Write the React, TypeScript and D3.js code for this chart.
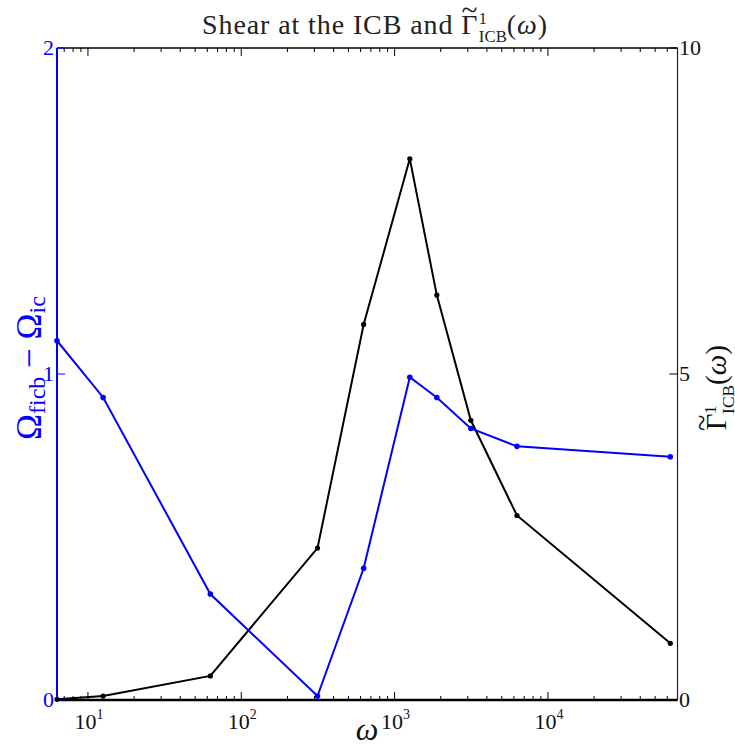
import React from "react";
import * as d3 from "d3";

const omegaFactors = [1, 2, 10, 50, 100, 200, 300, 500, 1000, 10000];
const omega = omegaFactors.map((f) => 2 * Math.PI * f);
const shear = [1.102, 0.928, 0.325, 0.012, 0.404, 0.99, 0.928, 0.833, 0.778, 0.746];
const gamma = [0.01, 0.06, 0.37, 2.33, 5.76, 8.3, 6.21, 4.29, 2.83, 0.87];
const leftTicks = [0, 1, 2];
const rightTicks = [0, 5, 10];
const xMajor = [1, 2, 3, 4];

const W = 735;
const H = 746;
const L = 57;
const R = 677.5;
const T = 48;
const B = 700;
const serif = "'Liberation Serif', 'DejaVu Serif', serif";

function gammaSpans(fs: number) {
  return [
    <tspan key="g">Γ</tspan>,
    <tspan key="t" dx={-0.6 * fs} dy={-0.5 * fs} fontSize={fs * 1.05}>~</tspan>,
    <tspan key="1" dx={0.02 * fs} dy={0.15 * fs} fontSize={0.58 * fs} letterSpacing={0}>1</tspan>,
    <tspan key="s" dx={-0.29 * fs} dy={0.62 * fs} fontSize={0.6 * fs} letterSpacing={0}>ICB</tspan>,
    <tspan key="p" dy={-0.27 * fs}>(</tspan>,
    <tspan key="w" fontStyle="italic">ω</tspan>,
    <tspan key="q">)</tspan>,
  ];
}

export default function App() {
  const x = d3.scaleLog().domain([2 * Math.PI, 70000]).range([L, R]);
  const yl = d3.scaleLinear().domain([0, 2]).range([B, T]);
  const yr = d3.scaleLinear().domain([0, 10]).range([B, T]);
  const minor = x.ticks().filter((v) => v >= x.domain()[0] && v <= x.domain()[1]);
  const isMajor = (v: number) => Math.abs(Math.log10(v) - Math.round(Math.log10(v))) < 1e-9;

  const lineL = d3.line<number>().x((_, i) => x(omega[i])).y((d) => yl(d));
  const lineR = d3.line<number>().x((_, i) => x(omega[i])).y((d) => yr(d));

  return (
    <svg width={W} height={H} style={{ display: "block", position: "absolute", left: 0, top: 0 }}>
      <rect width={W} height={H} fill="#fff" />
      {/* title */}
      <text x={375} y={34} textAnchor="middle" fontFamily={serif} fontSize={28} fill="#222" letterSpacing={0.9}>
        <tspan>Shear at the ICB and </tspan>
        {gammaSpans(28)}
      </text>

      {/* x ticks bottom and top */}
      {minor.map((v, i) => {
        const len = isMajor(v) ? 8 : 4;
        const xx = x(v);
        return (
          <g key={i}>
            <line x1={xx} x2={xx} y1={B} y2={B - len} stroke="#000" strokeWidth={1} />
            <line x1={xx} x2={xx} y1={T} y2={T + len} stroke="#000" strokeWidth={1} />
          </g>
        );
      })}
      {xMajor.map((e) => (
        <text key={e} x={x(Math.pow(10, e)) + 1} y={729} textAnchor="middle" fontFamily={serif} fontSize={22} fill="#111">
          10<tspan dy={-10} fontSize={14}>{e}</tspan>
        </text>
      ))}
      <text x={367} y={740} textAnchor="middle" fontFamily={serif} fontStyle="italic" fontSize={32} fill="#111">ω</text>

      {/* frame */}
      <line x1={L} x2={R} y1={T} y2={T} stroke="#000" strokeWidth={1.5} />
      <line x1={L} x2={R} y1={B} y2={B} stroke="#000" strokeWidth={2.5} />
      <line x1={R} x2={R} y1={T} y2={B} stroke="#1a1a70" strokeWidth={1.2} />
      <line x1={L} x2={L} y1={T} y2={B} stroke="#0000ff" strokeWidth={2} />

      {/* left ticks */}
      {leftTicks.map((t) => (
        <g key={t}>
          <line x1={L} x2={L + 8} y1={yl(t)} y2={yl(t)} stroke="#0000ff" strokeWidth={1} />
          <text x={54} y={yl(t) + 7} textAnchor="end" fontFamily={serif} fontSize={22} fill="#0000ff">{t}</text>
        </g>
      ))}
      {/* right ticks */}
      {rightTicks.map((t) => (
        <g key={t}>
          <line x1={R - 8} x2={R} y1={yr(t)} y2={yr(t)} stroke="#000" strokeWidth={1} />
          <text x={679} y={yr(t) + 7} textAnchor="start" fontFamily={serif} fontSize={22} fill="#111">{t}</text>
        </g>
      ))}

      {/* left y label */}
      <text transform="translate(41,368) rotate(-90)" textAnchor="middle" fontFamily={serif} fontSize={35} fill="#0000ff">
        Ω<tspan dy={4} fontSize={24}>ficb</tspan>
        <tspan dy={-4}> − Ω</tspan>
        <tspan dy={4} fontSize={24}>ic</tspan>
      </text>
      {/* right y label */}
      <text transform="translate(726,388) rotate(-90)" textAnchor="middle" fontFamily={serif} fontSize={29} fill="#111">
        {gammaSpans(29)}
      </text>

      {/* data */}
      <path d={lineR(gamma) || ""} fill="none" stroke="#000" strokeWidth={2} />
      {gamma.map((d, i) => (
        <circle key={"g" + i} cx={x(omega[i])} cy={yr(d)} r={2.6} fill="#000" />
      ))}
      <path d={lineL(shear) || ""} fill="none" stroke="#0000ff" strokeWidth={2} />
      {shear.map((d, i) => (
        <circle key={"s" + i} cx={x(omega[i])} cy={yl(d)} r={2.8} fill="#0000ff" />
      ))}
    </svg>
  );
}
